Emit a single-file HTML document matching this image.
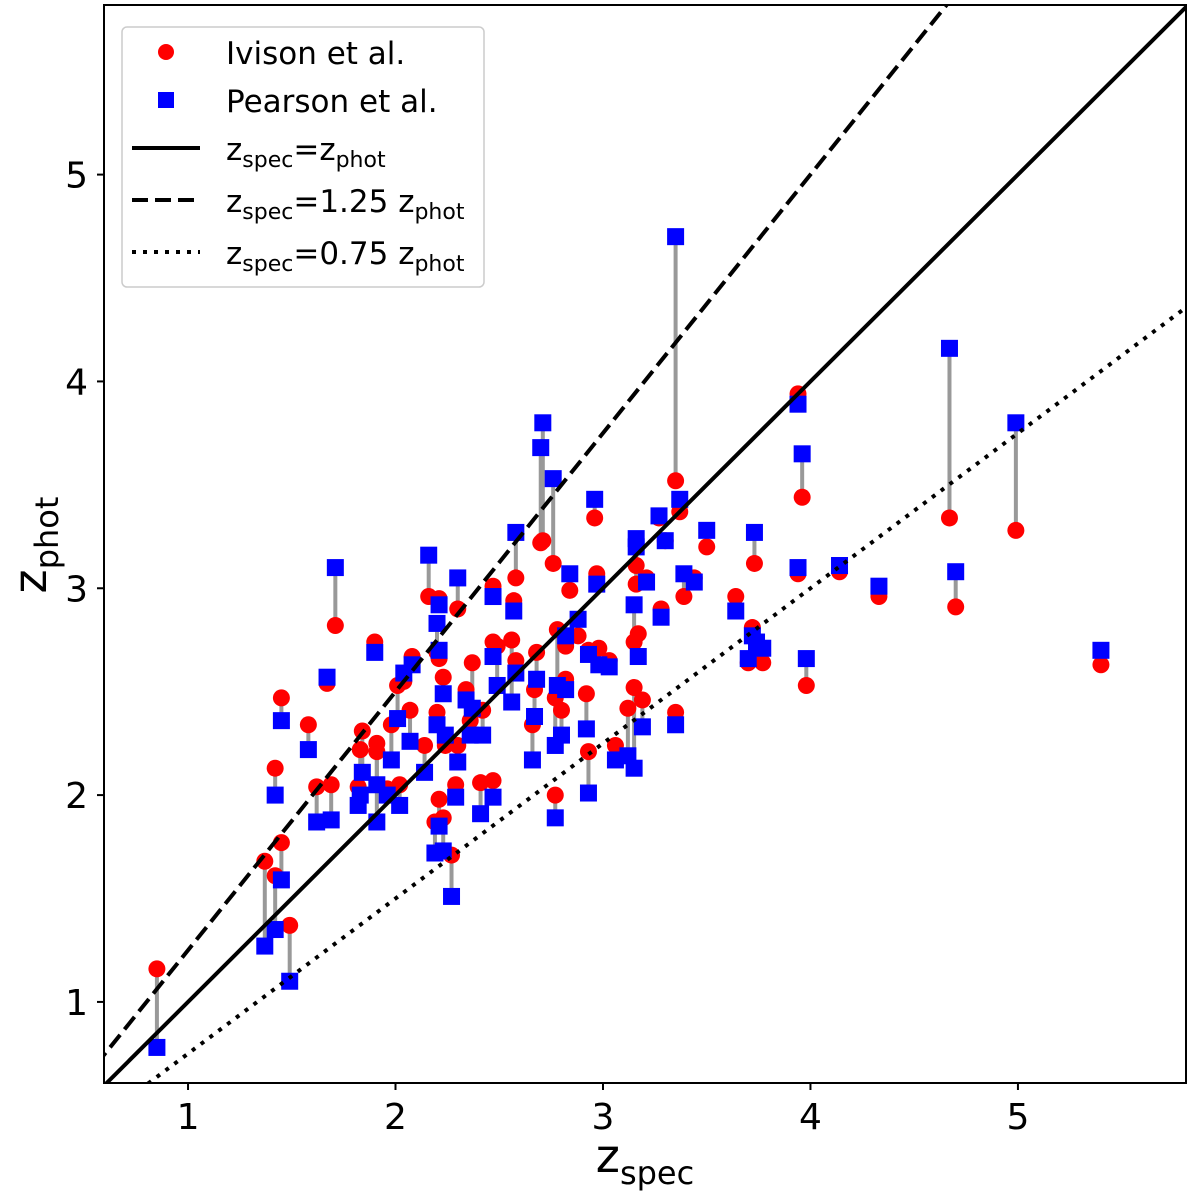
<!DOCTYPE html>
<html><head><meta charset="utf-8"><style>
html,body{margin:0;padding:0;background:#fff;}
svg{display:block;font-family:"DejaVu Sans","Liberation Sans",sans-serif;}
</style></head><body>
<svg id="chart" width="1200" height="1200" viewBox="0 0 1200 1200" xmlns="http://www.w3.org/2000/svg">
<defs><clipPath id="clip"><rect x="104" y="5" width="1082" height="1078"/></clipPath></defs>
<rect x="0" y="0" width="1200" height="1200" fill="#fff"/>
<g id="plot" clip-path="url(#clip)"></g>
<rect x="104" y="5" width="1082" height="1078" fill="none" stroke="#000" stroke-width="2"/>
<g id="ticks"></g>
<text x="645" y="1172" font-size="46" text-anchor="middle">z<tspan font-size="32" dy="12">spec</tspan></text>
<text transform="translate(46,545) rotate(-90)" font-size="46" text-anchor="middle">z<tspan font-size="32" dy="12">phot</tspan></text>
<g>
<rect x="122" y="27" width="362" height="260" rx="5" fill="#fff" fill-opacity="0.8" stroke="#ccc" stroke-width="1.5"/>
<g><circle cx="166" cy="52" r="8" fill="#ff0000"/><text x="226" y="64" font-size="31">Ivison et al.</text></g>
<g><rect x="158" y="92" width="16" height="16" fill="#0000ff"/><text x="226" y="112" font-size="31">Pearson et al.</text></g>
<g><line x1="132" y1="148" x2="200" y2="148" stroke="#000" stroke-width="4"/><text x="226" y="160" font-size="31">z<tspan font-size="22" dy="7">spec</tspan><tspan dy="-7">=z</tspan><tspan font-size="22" dy="7">phot</tspan></text></g>
<g><line x1="132" y1="200" x2="200" y2="200" stroke="#000" stroke-width="4" stroke-dasharray="16,7"/><text x="226" y="212" font-size="31">z<tspan font-size="22" dy="7">spec</tspan><tspan dy="-7">=1.25 z</tspan><tspan font-size="22" dy="7">phot</tspan></text></g>
<g><line x1="132" y1="252" x2="200" y2="252" stroke="#000" stroke-width="4" stroke-dasharray="4,7"/><text x="226" y="264" font-size="31">z<tspan font-size="22" dy="7">spec</tspan><tspan dy="-7">=0.75 z</tspan><tspan font-size="22" dy="7">phot</tspan></text></g>
</g>
</svg>
<script>
const zspec = [0.85,1.37,1.42,1.45,1.49,1.42,1.45,1.58,1.62,1.69,1.67,1.71,1.82,1.84,1.83,1.90,1.91,1.91,1.98,1.96,2.02,2.01,2.07,2.04,2.08,2.14,2.16,2.20,2.19,2.21,2.21,2.20,2.21,2.23,2.23,2.24,2.27,2.30,2.29,2.30,2.34,2.37,2.36,2.41,2.42,2.47,2.47,2.47,2.49,2.57,2.58,2.56,2.58,2.66,2.68,2.70,2.71,2.67,2.76,2.77,2.77,2.78,2.80,2.82,2.84,2.82,2.88,2.92,2.93,2.93,2.96,2.97,2.98,3.03,3.06,3.12,3.15,3.15,3.16,3.17,3.19,3.21,3.16,3.27,3.28,3.30,3.35,3.35,3.37,3.39,3.44,3.50,3.64,3.70,3.72,3.73,3.74,3.77,3.94,3.94,3.96,3.98,4.14,4.33,4.67,4.70,4.99,5.40];
const zphotIvison = [1.16,1.68,1.61,1.77,1.37,2.13,2.47,2.34,2.04,2.05,2.54,2.82,2.04,2.31,2.22,2.74,2.25,2.21,2.34,2.03,2.05,2.53,2.41,2.55,2.67,2.24,2.96,2.69,1.87,2.66,2.95,2.40,1.98,1.89,2.57,2.24,1.71,2.90,2.05,2.24,2.51,2.64,2.36,2.06,2.41,2.74,2.07,3.01,2.72,2.94,3.05,2.75,2.65,2.34,2.69,3.22,3.23,2.51,3.12,2.00,2.47,2.80,2.41,2.56,2.99,2.72,2.77,2.49,2.21,2.70,3.34,3.07,2.71,2.65,2.24,2.42,2.52,2.74,3.02,2.78,2.46,3.05,3.11,3.34,2.90,3.23,2.40,3.52,3.37,2.96,3.05,3.20,2.96,2.64,2.81,3.12,2.71,2.64,3.94,3.07,3.44,2.53,3.08,2.96,3.34,2.91,3.28,2.63];
const zphotPearson = [0.78,1.27,1.35,1.59,1.10,2.00,2.36,2.22,1.87,1.88,2.57,3.10,1.95,2.11,2.00,2.69,1.87,2.05,2.17,2.00,1.95,2.37,2.26,2.59,2.63,2.11,3.16,2.83,1.72,2.70,2.92,2.34,1.85,1.73,2.49,2.29,1.51,3.05,1.99,2.16,2.46,2.42,2.29,1.91,2.29,2.67,1.99,2.96,2.53,2.89,3.27,2.45,2.59,2.17,2.56,3.68,3.80,2.38,3.53,1.89,2.24,2.53,2.29,2.51,3.07,2.77,2.85,2.32,2.01,2.68,3.43,3.02,2.63,2.62,2.17,2.19,2.13,2.92,3.20,2.67,2.33,3.03,3.24,3.35,2.86,3.23,2.34,4.70,3.43,3.07,3.03,3.28,2.89,2.66,2.77,3.27,2.74,2.71,3.89,3.10,3.65,2.66,3.11,3.01,4.16,3.08,3.80,2.70];
const xTicks = [1,2,3,4,5];
const yTicks = [1,2,3,4,5];
const refSlopes = [1, 1.25, 0.75];

const NS='http://www.w3.org/2000/svg';
const xmin=0.595,xmax=5.81,ymin=0.608,ymax=5.82;
function sx(v){return 104+(v-xmin)/(xmax-xmin)*1082;}
function sy(v){return 1083-(v-ymin)/(ymax-ymin)*1078;}
function mk(tag,attrs,parent){const e=document.createElementNS(NS,tag);for(const k in attrs)e.setAttribute(k,attrs[k]);parent.appendChild(e);return e;}
const plot=document.getElementById('plot');
const ticks=document.getElementById('ticks');
for(let i=0;i<zspec.length;i++){
  const l=mk('line',{x1:sx(zspec[i]),x2:sx(zspec[i]),y1:sy(zphotIvison[i]),y2:sy(zphotPearson[i]),stroke:'#999',"stroke-width":4},plot);
  
  
}
for(let i=0;i<zspec.length;i++){
  const c=mk('circle',{cx:sx(zspec[i]),cy:sy(zphotIvison[i]),r:8.5,fill:'#ff0000'},plot);
  
  
}
for(let i=0;i<zspec.length;i++){
  const r=mk('rect',{x:sx(zspec[i])-8.5,y:sy(zphotPearson[i])-8.5,width:17,height:17,fill:'#0000ff'},plot);
  
  
}
const dashes=['','16,7','4,7'];
const refNames=['line-one-to-one','line-slope-1-25','line-slope-0-75'];
refSlopes.forEach((s,i)=>{
  const l=mk('line',{x1:sx(0),y1:sy(0),x2:sx(8),y2:sy(8*s),stroke:'#000',"stroke-width":4},plot);
  if(dashes[i])l.setAttribute('stroke-dasharray',dashes[i]);
  
  
});
xTicks.forEach(v=>{
  const x=sx(v);
  mk('line',{x1:x,x2:x,y1:1083,y2:1090,stroke:'#000',"stroke-width":2},ticks);
  const t=mk('text',{x:x,y:1129,"font-size":36,"text-anchor":"middle"},ticks);
  t.textContent=v;
  
  
});
yTicks.forEach(v=>{
  const y=sy(v);
  mk('line',{x1:97,x2:104,y1:y,y2:y,stroke:'#000',"stroke-width":2},ticks);
  const t=mk('text',{x:88,y:y+13,"font-size":36,"text-anchor":"end"},ticks);
  t.textContent=v;
  
  
});
</script>
</body></html>
